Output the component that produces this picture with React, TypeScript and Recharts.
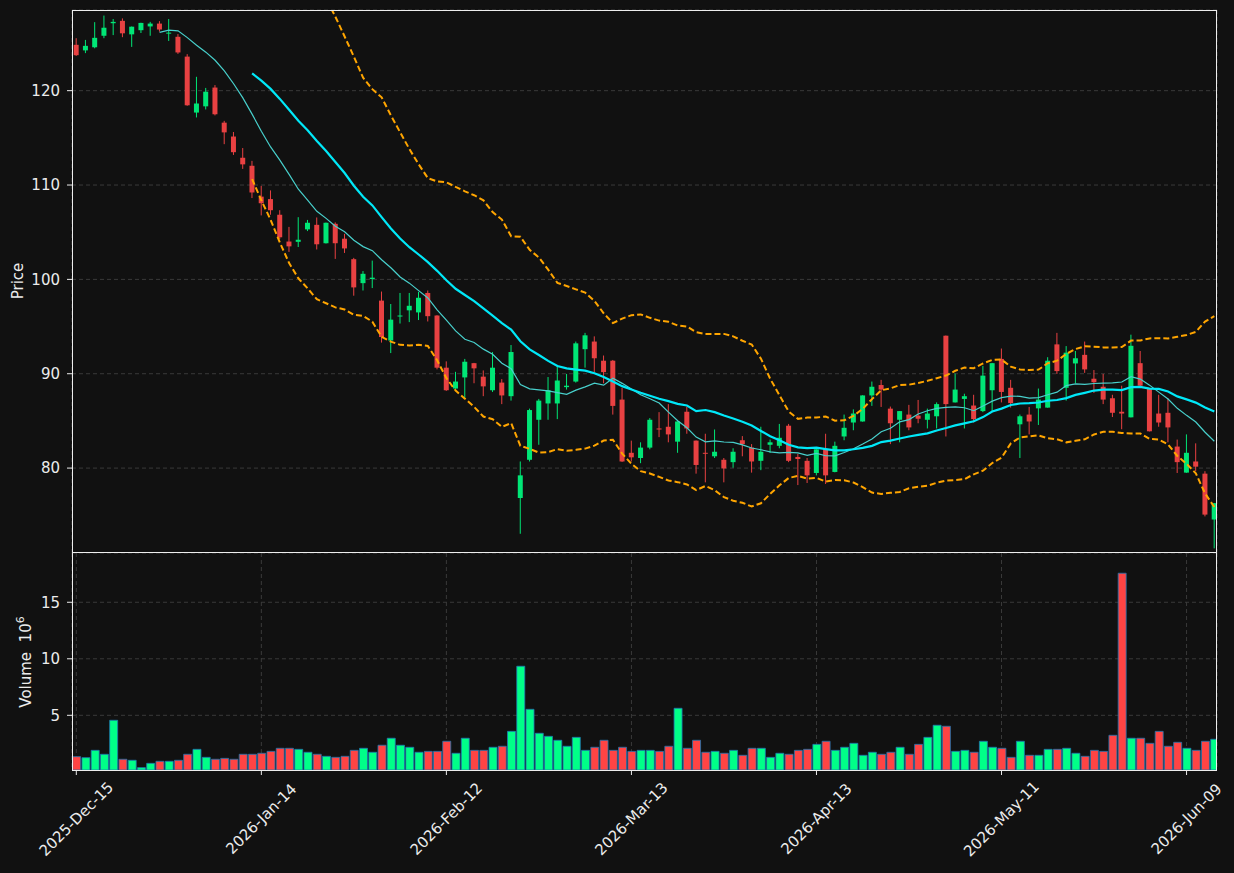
import React from "react";
import { Bar, CartesianGrid, Cell, ComposedChart, Line, XAxis, YAxis } from "recharts";

// x-axis labels (one every 20 sessions)
const tickIndex = [0, 20, 40, 60, 80, 100, 120];
const tickDates = ["2025-Dec-15", "2026-Jan-14", "2026-Feb-12", "2026-Mar-13", "2026-Apr-13", "2026-May-11", "2026-Jun-09"];

const opens = [
  124.86, 124.27, 124.6, 125.82, 127.15, 127.4, 125.97, 126.41, 126.81, 127.11,
  126.08, 125.71, 123.61, 117.68, 118.34, 120.33, 116.61, 115.14, 112.89, 112.04,
  108.77, 108.51, 106.85, 104.01, 103.98, 105.3, 105.78, 103.83, 105.89, 104.31,
  102.14, 99.6, 100.04, 97.75, 93.52, 96.1, 96.72, 96.5, 98.56, 96.17,
  90.64, 88.43, 89.61, 91.12, 89.69, 88.25, 89.06, 87.62, 76.83, 80.88,
  85.12, 86.85, 86.85, 88.58, 89.17, 92.6, 93.41, 91.38, 91.38, 87.26,
  81.62, 81.07, 82.17, 84.2, 84.38, 82.8, 85.97, 82.91, 81.62, 81.25,
  80.88, 80.63, 82.95, 82.17, 80.77, 82.47, 82.36, 84.49, 81.18, 80.77,
  79.48, 81.99, 79.59, 83.35, 84.83, 84.94, 87.7, 88.8, 86.3, 85.12,
  85.67, 85.56, 85.12, 85.49, 94.03, 86.96, 87.33, 86.63, 86.04, 88.25,
  91.57, 88.51, 84.64, 85.67, 86.33, 86.41, 93.11, 88.51, 91.09, 92.0,
  89.47, 88.62, 87.4, 85.97, 85.38, 91.12, 88.43, 85.78, 85.86, 82.28,
  79.52, 80.7, 79.41, 74.55
];
const highs = [
  125.56, 125.38, 127.26, 127.96, 127.59, 127.66, 126.8, 127.2, 127.29, 127.37,
  127.59, 126.0, 123.87, 121.47, 120.29, 120.59, 116.8, 115.62, 113.92, 112.56,
  109.91, 109.43, 107.33, 105.56, 106.59, 106.3, 106.56, 106.02, 106.04, 104.82,
  102.28, 100.88, 101.99, 98.71, 97.39, 98.56, 98.56, 98.67, 98.82, 96.2,
  91.31, 90.2, 91.57, 91.15, 90.35, 92.3, 89.43, 93.04, 80.7, 86.3,
  87.33, 89.65, 90.83, 89.98, 93.41, 94.33, 93.96, 91.93, 91.46, 88.51,
  82.91, 82.73, 85.3, 85.93, 86.78, 84.96, 86.48, 82.93, 83.64, 84.09,
  81.07, 82.1, 83.39, 82.54, 84.38, 83.02, 84.68, 84.68, 81.51, 81.07,
  82.0, 83.64, 82.8, 85.67, 86.22, 87.72, 89.17, 89.35, 86.52, 86.05,
  86.7, 87.22, 86.3, 86.96, 94.05, 90.02, 87.88, 87.77, 90.83, 91.15,
  92.67, 89.35, 85.67, 86.48, 88.43, 91.75, 94.33, 92.93, 92.41, 93.41,
  90.39, 89.98, 87.77, 88.73, 94.14, 92.41, 88.44, 87.77, 87.4, 83.02,
  83.57, 82.62, 79.67, 76.3
];
const lows = [
  123.68, 123.98, 124.49, 125.56, 125.89, 125.67, 124.64, 126.11, 125.82, 126.26,
  125.27, 123.9, 118.4, 117.16, 118.01, 117.38, 114.33, 113.19, 111.71, 108.62,
  106.78, 106.85, 104.27, 102.91, 103.43, 105.12, 103.17, 103.8, 102.17, 102.8,
  98.27, 98.82, 99.08, 93.3, 92.19, 95.32, 95.47, 95.69, 95.54, 90.46,
  88.18, 88.4, 87.33, 88.99, 87.62, 88.07, 86.78, 87.15, 73.04, 80.7,
  82.47, 85.12, 85.19, 88.32, 89.06, 90.64, 90.17, 88.99, 85.67, 80.65,
  80.7, 80.52, 81.99, 83.28, 82.73, 81.62, 83.64, 79.41, 78.49, 81.07,
  78.49, 80.04, 81.25, 79.52, 79.78, 81.62, 82.1, 80.63, 78.2, 78.42,
  79.23, 78.31, 79.55, 82.95, 84.01, 84.92, 86.59, 86.48, 82.54, 82.73,
  84.01, 84.75, 84.2, 84.2, 83.35, 86.95, 84.2, 84.83, 85.93, 86.04,
  86.96, 86.41, 81.07, 83.57, 84.57, 86.4, 89.98, 87.15, 88.99, 90.09,
  87.96, 86.78, 85.41, 84.12, 85.37, 88.7, 83.88, 84.38, 82.73, 79.48,
  79.5, 79.67, 74.88, 71.49
];
const closes = [
  123.76, 124.75, 125.6, 126.67, 127.29, 126.08, 126.78, 127.18, 127.11, 126.48,
  126.15, 124.05, 118.45, 118.64, 119.89, 117.5, 115.58, 113.48, 112.19, 109.21,
  108.07, 107.33, 104.46, 103.5, 104.2, 106.0, 103.72, 106.0, 103.83, 103.28,
  99.15, 100.59, 100.18, 93.89, 95.73, 96.17, 97.2, 98.05, 96.1, 90.64,
  88.25, 89.17, 91.27, 90.57, 88.66, 90.64, 87.7, 92.3, 79.23, 86.15,
  87.15, 88.25, 89.28, 88.73, 93.22, 94.07, 91.64, 90.17, 86.59, 80.7,
  81.14, 82.17, 85.12, 84.09, 83.57, 84.94, 84.2, 80.33, 81.55, 81.73,
  79.96, 81.73, 82.54, 80.7, 81.73, 82.73, 83.21, 80.77, 80.96, 79.23,
  81.99, 79.23, 82.36, 84.27, 85.78, 87.7, 88.62, 88.32, 84.75, 86.04,
  84.31, 85.23, 85.78, 86.78, 86.78, 88.32, 87.62, 85.19, 89.8, 91.12,
  88.07, 86.89, 85.49, 84.94, 87.26, 91.38, 90.28, 92.23, 91.64, 90.46,
  89.1, 87.26, 85.86, 85.78, 92.96, 88.73, 83.9, 84.83, 84.31, 80.63,
  81.62, 80.15, 75.07, 76.28
];
// volume in millions
const volumes = [
  1.34, 1.25, 1.9, 1.55, 4.56, 1.11, 1.02, 0.37, 0.75, 0.93,
  0.93, 1.02, 1.55, 1.99, 1.28, 1.11, 1.19, 1.11, 1.55, 1.55,
  1.64, 1.81, 2.08, 2.08, 1.99, 1.73, 1.55, 1.37, 1.28, 1.37,
  1.9, 2.08, 1.73, 2.35, 2.97, 2.35, 2.17, 1.73, 1.81, 1.81,
  2.7, 1.64, 2.97, 1.9, 1.9, 2.17, 2.26, 3.58, 9.34, 5.53,
  3.41, 3.14, 2.79, 2.26, 3.05, 1.9, 2.17, 2.79, 1.9, 2.17,
  1.81, 1.9, 1.9, 1.81, 2.26, 5.62, 2.08, 2.79, 1.73, 1.81,
  1.64, 1.9, 1.46, 2.08, 2.08, 1.28, 1.64, 1.55, 1.9, 1.99,
  2.43, 2.7, 1.9, 2.17, 2.52, 1.46, 1.73, 1.55, 1.73, 2.17,
  1.55, 2.43, 3.05, 4.12, 4.03, 1.81, 1.9, 1.73, 2.7, 2.17,
  2.08, 1.28, 2.7, 1.46, 1.46, 1.99, 1.99, 2.08, 1.64, 1.37,
  1.9, 1.81, 3.23, 17.57, 2.97, 2.97, 2.52, 3.58, 2.26, 2.61,
  2.08, 1.9, 2.7, 2.88
];

const BG = "#111111";
const TEXT = "#ececec";
const FONT = "DejaVu Sans, sans-serif";
const UP = "#00e676";
const DOWN = "#e84142";
const VOL_UP = "#00ff88";
const VOL_DOWN = "#ff4444";

const window = (src: number[], n: number, i: number) => src.slice(i - n + 1, i + 1);
const avg = (a: number[]) => a.reduce((s, v) => s + v, 0) / a.length;
const sd = (a: number[]) => {
  const m = avg(a);
  return Math.sqrt(a.reduce((s, v) => s + (v - m) ** 2, 0) / a.length);
};

const rows = opens.map((open, i) => {
  const w20 = i >= 19 ? window(closes, 20, i) : null;
  const mid = w20 ? avg(w20) : null;
  const dev = w20 ? sd(w20) : 0;
  return {
    i,
    open,
    high: highs[i],
    low: lows[i],
    close: closes[i],
    vol: volumes[i],
    ma10: i >= 9 ? avg(window(closes, 10, i)) : null,
    ma20: mid,
    upper: mid != null ? mid + 2 * dev : null,
    lower: mid != null ? mid - 2 * dev : null
  };
});

const X_DOMAIN: [number, number] = [-0.465, 123.29];

const Candle = (props: any) => {
  const { x, y, width, height, payload } = props;
  if (x == null || y == null || !payload) return null;
  const { open, close, high, low } = payload;
  const top = Math.min(y, y + height);
  const bottom = Math.max(y, y + height);
  const span = high - low || 1;
  const py = (v: number) => top + ((high - v) / span) * (bottom - top);
  const cx = x + width / 2;
  const color = close >= open ? UP : DOWN;
  const bTop = py(Math.max(open, close));
  const bBot = py(Math.min(open, close));
  return (
    <g>
      <line x1={cx} x2={cx} y1={top} y2={bottom} stroke={color} strokeWidth={1} />
      <rect x={x} y={bTop} width={width} height={Math.max(bBot - bTop, 1)} fill={color} />
    </g>
  );
};

const DateTick = ({ x, y, payload }: any) => {
  const k = tickIndex.indexOf(payload.value);
  const cy = y + 42;
  return (
    <text
      x={x}
      y={cy}
      transform={`rotate(-45 ${x} ${cy})`}
      textAnchor="middle"
      dominantBaseline="central"
      fill={TEXT}
      fontSize={15}
      fontFamily={FONT}
    >
      {k >= 0 ? tickDates[k] : ""}
    </text>
  );
};

const tickStyle = { fill: TEXT, fontSize: 15, fontFamily: FONT };

export default function App() {
  return (
    <div style={{ position: "absolute", left: 0, top: 0, width: 1234, height: 873, background: BG, overflow: "hidden" }}>
      <div style={{ position: "absolute", left: 0, top: 0 }}>
        <ComposedChart width={1234} height={553} data={rows} margin={{ top: 10, right: 17, bottom: 0, left: 0 }}>
          <CartesianGrid stroke="#3a3a3a" strokeDasharray="4 3" />
          <XAxis
            dataKey="i"
            type="number"
            domain={X_DOMAIN}
            ticks={tickIndex}
            allowDataOverflow
            height={0}
            tick={false}
            axisLine={false}
            tickLine={false}
          />
          <YAxis
            width={72}
            domain={[71.0, 128.55]}
            ticks={[80, 90, 100, 110, 120]}
            allowDataOverflow
            axisLine={false}
            tickSize={5}
            tickMargin={7}
            tickLine={{ stroke: TEXT }}
            tick={tickStyle}
          />
          <Bar dataKey={(d: any) => [d.low, d.high]} barSize={5} shape={<Candle />} isAnimationActive={false} />
          <Line dataKey="ma10" stroke="#48d0cc" strokeWidth={1.2} dot={false} isAnimationActive={false} />
          <Line dataKey="ma20" stroke="#00e8f8" strokeWidth={2.2} dot={false} isAnimationActive={false} />
          <Line dataKey="upper" stroke="#ffa500" strokeWidth={2} strokeDasharray="6 3" dot={false} isAnimationActive={false} />
          <Line dataKey="lower" stroke="#ffa500" strokeWidth={2} strokeDasharray="6 3" dot={false} isAnimationActive={false} />
        </ComposedChart>
      </div>
      <div style={{ position: "absolute", left: 0, top: 553 }}>
        <ComposedChart width={1234} height={320} data={rows} margin={{ top: 0, right: 17, bottom: 0, left: 0 }}>
          <CartesianGrid stroke="#3a3a3a" strokeDasharray="4 3" />
          <XAxis
            dataKey="i"
            type="number"
            domain={X_DOMAIN}
            ticks={tickIndex}
            allowDataOverflow
            height={103}
            axisLine={false}
            tickSize={5}
            tickLine={{ stroke: TEXT }}
            tick={<DateTick />}
            interval={0}
          />
          <YAxis
            width={72}
            domain={[0.16, 19.36]}
            ticks={[5, 10, 15]}
            allowDataOverflow
            axisLine={false}
            tickSize={5}
            tickMargin={7}
            tickLine={{ stroke: TEXT }}
            tick={tickStyle}
          />
          <Bar dataKey="vol" barSize={8} stroke="#1f77b4" strokeWidth={0.8} isAnimationActive={false}>
            {rows.map((r) => (
              <Cell key={r.i} fill={r.close >= r.open ? VOL_UP : VOL_DOWN} />
            ))}
          </Bar>
        </ComposedChart>
      </div>
      <div style={{ position: "absolute", left: 72, top: 10, width: 1145, height: 543, border: "1px solid #eeeeee", boxSizing: "border-box", pointerEvents: "none" }} />
      <div style={{ position: "absolute", left: 72, top: 552, width: 1145, height: 219, border: "1px solid #eeeeee", boxSizing: "border-box", pointerEvents: "none" }} />
      <svg width={60} height={873} style={{ position: "absolute", left: 0, top: 0, pointerEvents: "none" }}>
        <text x={18} y={281} transform="rotate(-90 18 281)" textAnchor="middle" dominantBaseline="central" fill={TEXT} fontSize={15} fontFamily={FONT}>
          Price
        </text>
        <text x={26} y={662} transform="rotate(-90 26 662)" textAnchor="middle" dominantBaseline="central" fill={TEXT} fontSize={15} fontFamily={FONT}>
          <tspan>{"Volume\u00a0\u00a010"}</tspan>
          <tspan dy={-6} fontSize={11}>6</tspan>
        </text>
      </svg>
    </div>
  );
}
